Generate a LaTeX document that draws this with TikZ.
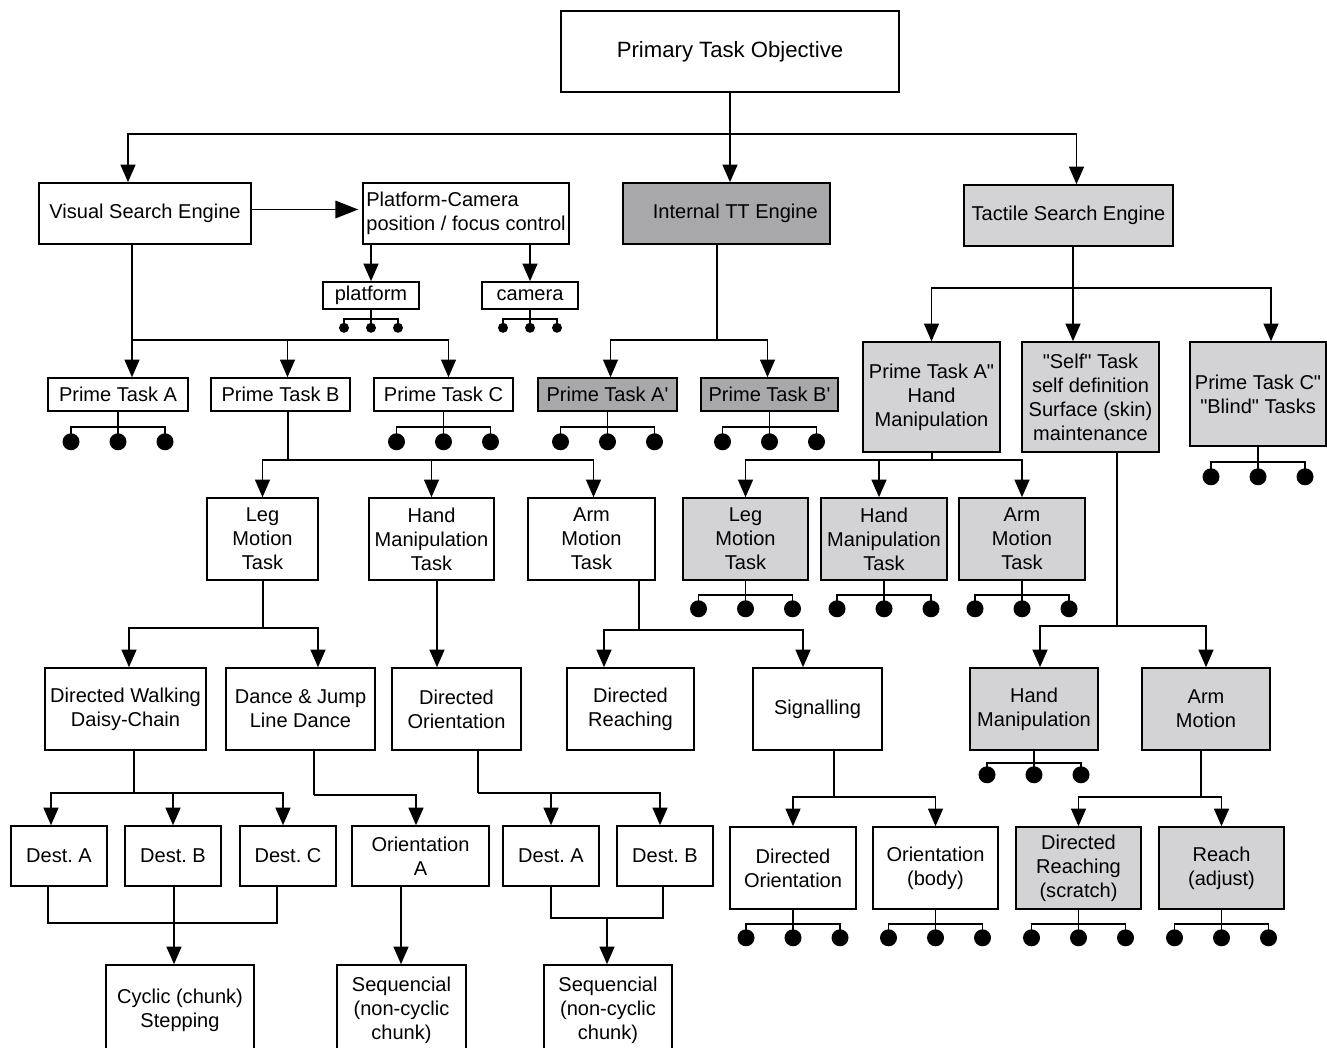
\documentclass[tikz,border=0pt]{standalone}
\usepackage{fontspec}
\setmainfont{Liberation Sans}
\usepackage{xcolor}
\usepackage{tikz}
\usetikzlibrary{arrows.meta,calc}

\definecolor{darkfill}{RGB}{168,168,171}
\definecolor{lightfill}{RGB}{211,211,213}

% three dots hanging under a box: node, half spacing, drop, dot radius
\newcommand{\forkdots}[4]{%
  \draw (#1.south) -- ++(0,#3) coordinate (#1fk);
  \draw ($(#1fk)+(-#2,#3)$) |- ($(#1fk)+(#2,0)$) -- ++(0,#3);
  \draw (#1fk) -- ++(0,#3);
  \foreach \k in {-1,0,1} \fill ($(#1fk)+(\k*#2,#3)$) circle[radius=#4];
}
\newcommand{\dq}{\textquotedbl}

\begin{document}
\begin{tikzpicture}[
    x=0.02cm, y=-0.02cm, line width=0.9pt,
    box/.style={draw, fill=white, line width=0.9pt, inner sep=1pt, align=center, font=\fontsize{11.4}{13.6}\selectfont\frenchspacing},
    sz/.style 2 args={minimum width=#1*0.02cm, minimum height=#2*0.02cm},
    dark/.style={fill=darkfill},
    light/.style={fill=lightfill},
    arr/.style={-{Triangle[length=10pt, width=8.5pt]}, line width=0.9pt}
]
\useasboundingbox (0,0) rectangle (1327,1047);

% engines
\node[box, sz={338}{81}, font=\fontsize{12.6}{15}\selectfont] (top) at (730,51.5) {Primary Task Objective};
\node[box, sz={212}{61}] (vse) at (145,213.5) {Visual Search Engine};
\node[box, sz={206}{61}, align=left] (pcam) at (466,213.5) {Platform-Camera\\position / focus control};
\node[box, dark, sz={207}{61}] (itt) at (726.5,213.5) {\hspace*{10pt}Internal TT Engine};
\node[box, light, sz={209}{61}] (tse) at (1068.5,215.5) {Tactile Search Engine};
\node[box, sz={96}{27}] (plat) at (371,295.5) {platform};
\node[box, sz={96}{27}] (cam) at (530,295.5) {camera};

% prime tasks
\node[box, sz={140}{33}] (ptA) at (118,394.5) {Prime Task A};
\node[box, sz={139}{33}] (ptB) at (280.5,394.5) {Prime Task B};
\node[box, sz={139}{33}] (ptC) at (443.5,394.5) {Prime Task C};
\node[box, dark, sz={139}{33}] (ptAp) at (607.5,394.5) {Prime Task A\textquotesingle};
\node[box, dark, sz={137}{33}] (ptBp) at (769.5,394.5) {Prime Task B\textquotesingle};
\node[box, light, sz={137}{110}] (ptApp) at (931.5,397) {Prime Task A\dq\\Hand\\Manipulation};
\node[box, light, sz={137}{110}] (self) at (1090.5,397) {\dq Self\dq\ Task\\self definition\\Surface (skin)\\maintenance};
\node[box, light, sz={136}{104}] (ptCpp) at (1258,394) {Prime Task C\dq\\\dq Blind\dq\ Tasks};

% motion tasks
\node[box, sz={111}{82}] (leg) at (262.5,539) {Leg\\Motion\\Task};
\node[box, sz={125}{82}] (hand) at (431.5,539) {Hand\\Manipulation\\Task};
\node[box, sz={127}{82}] (arm) at (591.5,539) {Arm\\Motion\\Task};
\node[box, light, sz={125}{82}] (gleg) at (745.5,539) {Leg\\Motion\\Task};
\node[box, light, sz={126}{82}] (ghand) at (884,539) {Hand\\Manipulation\\Task};
\node[box, light, sz={126}{82}] (garm) at (1022,539) {Arm\\Motion\\Task};

% behaviours
\node[box, sz={161}{82}] (walk) at (125.5,709) {Directed Walking\\Daisy-Chain};
\node[box, sz={149}{82}] (dance) at (300.5,709) {Dance \& Jump\\Line Dance};
\node[box, sz={129}{82}] (dor) at (456.5,709) {Directed\\Orientation};
\node[box, sz={127}{82}] (dreach) at (630.5,709) {Directed\\Reaching};
\node[box, sz={129}{82}] (sig) at (817.5,709) {Signalling};
\node[box, light, sz={128}{82}] (shand) at (1034,709) {Hand\\Manipulation};
\node[box, light, sz={128}{82}] (sarm) at (1206,709) {Arm\\Motion};

% destinations
\node[box, sz={96}{60}] (dA) at (59,856) {Dest. A};
\node[box, sz={96}{60}] (dB) at (173,856) {Dest. B};
\node[box, sz={96}{60}] (dC) at (288,856) {Dest. C};
\node[box, sz={137}{60}] (oriA) at (420.5,856) {Orientation\\A};
\node[box, sz={96}{60}] (dA2) at (551,856) {Dest. A};
\node[box, sz={96}{60}] (dB2) at (665,856) {Dest. B};
\node[box, sz={126}{82}] (dor2) at (793,868) {Directed\\Orientation};
\node[box, sz={125}{82}] (obody) at (935.5,868) {Orientation\\(body)};
\node[box, light, sz={125}{82}] (drs) at (1078.5,868) {Directed\\Reaching\\(scratch)};
\node[box, light, sz={125}{82}] (radj) at (1221.5,868) {Reach\\(adjust)};

% chunks
\node[box, sz={148}{90}] (cyc) at (180,1010) {Cyclic (chunk)\\Stepping};
\node[box, sz={129}{90}] (seq1) at (401.5,1010) {Sequencial\\(non-cyclic\\chunk)};
\node[box, sz={128}{90}] (seq2) at (608,1010) {Sequencial\\(non-cyclic\\chunk)};

% top level
\coordinate (jtop) at ($(top.south)+(0,41)$);
\draw (top.south) -- (jtop);
\draw[arr] (jtop) -| ($(vse.north)+(-17,0)$);
\draw[arr] (jtop) -- (jtop |- itt.north);
\draw[arr] (jtop) -| ($(tse.north)+(8,0)$);

% visual search
\draw[arr, -{Triangle[length=13pt, width=10pt]}] ($(vse.east)+(0,-4)$) -- ($(pcam.west)+(-4,-4)$);
\draw[arr] (plat.north |- pcam.south) -- (plat.north);
\draw[arr] (cam.north |- pcam.south) -- (cam.north);
\forkdots{plat}{27}{9}{5}
\forkdots{cam}{27}{9}{5}
\coordinate (jvse) at (132,340);
\draw (jvse |- vse.south) -- (jvse);
\draw[arr] (jvse) -- (jvse |- ptA.north);
\draw[arr] (jvse) -| ($(ptB.north)+(7,0)$);
\draw[arr] (jvse) -| ($(ptC.north)+(5,0)$);

% internal TT
\coordinate (jitt) at (717,340);
\draw (jitt |- itt.south) -- (jitt);
\draw[arr] (jitt) -| ($(ptAp.north)+(3,0)$);
\draw[arr] (jitt) -| ($(ptBp.north)+(-2,0)$);

% tactile search
\coordinate (jtse) at (1073,288);
\draw (jtse |- tse.south) -- (jtse);
\draw[arr] (jtse) -| (ptApp.north);
\draw[arr] (jtse) -- (jtse |- self.north);
\draw[arr] (jtse) -| ($(ptCpp.north)+(13,0)$);

\forkdots{ptA}{47}{15}{8.5}
\forkdots{ptC}{47}{15}{8.5}
\forkdots{ptAp}{47}{15}{8.5}
\forkdots{ptBp}{47}{15}{8.5}
\forkdots{ptCpp}{47}{15}{8.5}

% prime task B
\coordinate (jptb) at (288,460);
\draw (jptb |- ptB.south) -- (jptb);
\draw[arr] (jptb) -| (leg.north);
\draw[arr] (jptb) -| (hand.north);
\draw[arr] (jptb) -| ($(arm.north)+(2,0)$);

% prime task A''
\coordinate (jpta) at (932,460);
\draw (jpta |- ptApp.south) -- (jpta);
\draw[arr] (jpta) -| (gleg.north);
\draw[arr] (jpta) -| ($(ghand.north)+(-5,0)$);
\draw[arr] (jpta) -| (garm.north);
\forkdots{gleg}{47}{14}{8.5}
\forkdots{ghand}{47}{14}{8.5}
\forkdots{garm}{47}{14}{8.5}

% self task
\coordinate (jself) at (1117,626);
\draw (jself |- self.south) -- (jself);
\draw[arr] (jself) -| ($(shand.north)+(6,0)$);
\draw[arr] (jself) -| (sarm.north);
\forkdots{shand}{47}{12}{8.5}

% leg / hand / arm
\coordinate (jleg) at (263,628);
\draw (jleg |- leg.south) -- (jleg);
\draw[arr] (jleg) -| ($(walk.north)+(3.5,0)$);
\draw[arr] (jleg) -| ($(dance.north)+(17.5,0)$);
\coordinate (jhand) at ($(hand.south)+(5.5,0)$);
\draw[arr] (jhand) -- (jhand |- dor.north);
\coordinate (jarm) at (639,630);
\draw (jarm |- arm.south) -- (jarm);
\draw[arr] (jarm) -| ($(dreach.north)+(-26.5,0)$);
\draw[arr] (jarm) -| ($(sig.north)+(-14.5,0)$);

% walking
\coordinate (jwalk) at (134,793);
\draw (jwalk |- walk.south) -- (jwalk);
\draw[arr] (jwalk) -| ($(dA.north)+(-8,0)$);
\draw[arr] (jwalk) -| (dB.north);
\draw[arr] (jwalk) -| ($(dC.north)+(-5,0)$);
\coordinate (jdest) at (174,923);
\draw ($(dA.south)+(-11,0)$) |- (jdest) -| ($(dC.south)+(-11,0)$);
\draw[arr] (jdest |- dB.south) -- (jdest |- cyc.north);

% dance
\coordinate (jdance) at (314,795);
\draw (jdance |- dance.south) -- (jdance);
\draw[arr] (jdance) -| ($(oriA.north)+(-4.5,0)$);
\coordinate (jori) at ($(oriA.south)+(-19.5,0)$);
\draw[arr] (jori) -- (jori |- seq1.north);

% orientation
\coordinate (jdor) at (478,793);
\draw (jdor |- dor.south) -- (jdor);
\draw[arr] (jdor) -| (dA2.north);
\draw[arr] (jdor) -| ($(dB2.north)+(-5,0)$);
\coordinate (jdest2) at (607,918);
\draw (dA2.south) |- (jdest2) -| ($(dB2.south)+(-2,0)$);
\draw[arr] (jdest2) -- (jdest2 |- seq2.north);

% signalling
\coordinate (jsig) at (834,797);
\draw (jsig |- sig.south) -- (jsig);
\draw[arr] (jsig) -| (dor2.north);
\draw[arr] (jsig) -| (obody.north);
\forkdots{dor2}{47}{14}{8.5}
\forkdots{obody}{47}{14}{8.5}

% arm motion
\coordinate (jsarm) at (1201,797);
\draw (jsarm |- sarm.south) -- (jsarm);
\draw[arr] (jsarm) -| (drs.north);
\draw[arr] (jsarm) -| (radj.north);
\forkdots{drs}{47}{14}{8.5}
\forkdots{radj}{47}{14}{8.5}
\end{tikzpicture}
\end{document}
